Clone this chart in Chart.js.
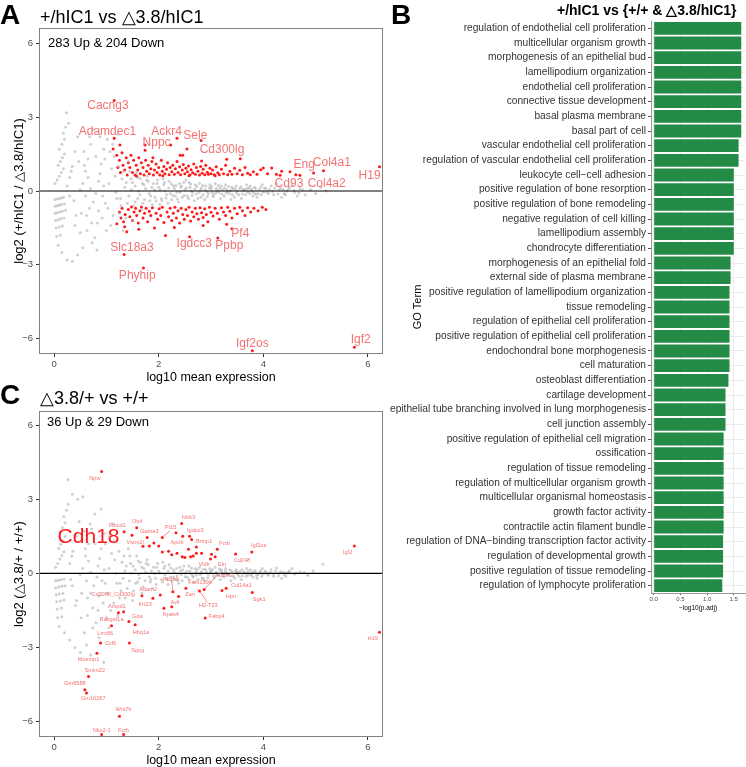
<!DOCTYPE html>
<html>
<head>
<meta charset="utf-8">
<script src="https://cdn.jsdelivr.net/npm/chart.js@4.4.0/dist/chart.umd.min.js"></script>
<style>
  body { margin: 0; background: #fff; width: 746px; height: 767px; position: relative; overflow: hidden;
         font-family: "Liberation Sans", Arial, sans-serif; }
  canvas, .t { position: absolute; }
  .t { line-height: 1; white-space: nowrap; color: #000; }
  .letter { font-weight: bold; font-size: 28px; }
</style>
</head>
<body>
<canvas id="chartA" width="395" height="385" style="left:0;top:0"></canvas>
<canvas id="chartC" width="395" height="385" style="left:0;top:383px"></canvas>
<canvas id="chartB" width="376" height="612" style="left:370px;top:0"></canvas>

<div class="t letter" style="left:0;top:1px">A</div>
<div class="t" style="left:40px;top:8px;font-size:18px">+/hIC1 vs △3.8/hIC1</div>
<div class="t" style="left:48px;top:36px;font-size:13px">283 Up &amp; 204 Down</div>

<div class="t letter" style="left:0;top:381px">C</div>
<div class="t" style="left:40px;top:389px;font-size:18px">△3.8/+ vs +/+</div>
<div class="t" style="left:47px;top:415px;font-size:13px">36 Up &amp; 29 Down</div>

<div class="t letter" style="left:391px;top:1px">B</div>
<div class="t" style="left:557px;top:3px;font-size:14px;font-weight:bold">+/hIC1 vs {+/+ &amp; △3.8/hIC1}</div>

<script>
Chart.defaults.font.family = '"Liberation Sans", Arial, sans-serif';

// ---------- Panel A: +/hIC1 vs d3.8/hIC1 (MA plot) ----------
// background genes, read roughly off the grey cloud
const aGrey = [
  [0.02,-0.35],[0.06,-0.32],[0.10,-0.30],[0.14,-0.28],[0.18,-0.25],
  [0.02,-0.62],[0.06,-0.60],[0.10,-0.57],[0.14,-0.55],[0.20,-0.52],
  [0.02,-0.90],[0.06,-0.88],[0.11,-0.85],[0.16,-0.82],[0.22,-0.78],
  [0.03,-1.20],[0.08,-1.17],[0.13,-1.13],[0.19,-1.10],
  [0.04,-1.50],[0.10,-1.46],[0.16,-1.42],
  [0.05,-1.85],[0.12,-1.80],[0.08,-2.20],[0.15,-2.50],[0.25,-2.80],[0.35,-2.85],
  [0.02,0.30],[0.06,0.45],[0.10,0.60],[0.14,0.75],[0.18,0.90],[0.08,1.05],[0.12,1.20],[0.16,1.35],
  [0.20,1.50],[0.10,1.70],[0.15,1.90],[0.20,2.10],[0.18,2.35],[0.22,2.60],[0.28,2.75],[0.24,3.18],
  [0.25,0.20],[0.30,0.55],[0.35,1.00],[0.40,1.60],[0.45,2.20],[0.38,-0.40],[0.42,-1.00],[0.50,-1.70],
  [0.55,-2.30],[0.45,-2.60],
  [0.55,0.30],[0.60,0.80],[0.65,1.30],[0.70,1.90],[0.75,2.50],[0.60,-0.20],[0.68,-0.70],[0.72,-1.30],
  [0.78,-1.90],[0.82,-2.40],[0.85,0.40],[0.90,1.10],[0.95,1.70],[0.88,2.20],[0.98,-0.50],[0.92,-1.10],
  [1.00,-1.60],[0.50,0.05],[0.70,0.10],[0.80,-0.10],[0.65,0.55],[0.75,-0.45],[0.58,1.05],[0.62,-1.00],
  [0.95,0.20],[0.85,-0.80],
  [1.05,0.30],[1.10,0.90],[1.15,1.40],[1.20,-0.30],[1.25,-0.90],[1.30,0.50],[1.35,0.15],[1.40,-0.50],
  [1.45,0.80],[1.50,-1.20],[1.08,-1.40],[1.12,1.90],[1.22,2.30],[1.32,-1.60],[1.42,1.20],[1.48,0.05],
  [1.18,-0.05],[1.28,-0.60],[1.38,0.35],[1.02,2.10],
  [1.55,0.20],[1.60,-0.30],[1.65,0.50],[1.70,-0.50],[1.75,0.10],[1.80,0.40],[1.85,-0.20],[1.90,0.30],
  [1.95,-0.40],[2.00,0.15],[1.58,0.75],[1.68,-0.75],[1.78,0.60],[1.88,-0.55],[1.62,0.00],[1.72,0.25],
  [1.82,-0.10],[1.92,0.05],[1.52,-0.60],[1.98,0.45],
  [2.05,-0.30],[2.10,0.25],[2.15,-0.15],[2.20,0.40],[2.25,-0.35],[2.30,0.10],[2.35,-0.05],[2.40,0.30],
  [2.45,-0.25],[2.50,0.05],[2.08,0.50],[2.18,-0.50],[2.28,0.20],[2.38,-0.45],[2.48,0.35],[2.12,0.00],
  [2.22,-0.10],[2.32,-0.20],[2.42,0.15],[2.02,-0.55],
  [2.55,-0.20],[2.60,0.15],[2.65,-0.05],[2.70,0.25],[2.75,-0.30],[2.80,0.05],[2.85,-0.15],[2.90,0.20],
  [2.95,-0.10],[3.00,0.10],[2.58,0.35],[2.68,-0.40],[2.78,0.30],[2.88,-0.35],[2.98,0.25],[2.62,0.00],
  [2.72,-0.12],[2.82,0.12],[2.92,-0.02],[2.52,0.45],
  [3.05,-0.15],[3.10,0.10],[3.15,-0.05],[3.20,0.20],[3.25,-0.20],[3.30,0.05],[3.35,-0.10],[3.40,0.15],
  [3.45,-0.25],[3.50,0.00],[3.08,0.30],[3.18,-0.30],[3.28,0.25],[3.38,-0.35],[3.48,0.20],[3.12,0.00],
  [3.22,0.05],[3.32,-0.02],[3.42,0.08],[3.02,-0.05],
  [3.55,0.10],[3.60,-0.12],[3.65,0.05],[3.70,-0.05],[3.75,0.20],[3.80,-0.20],[3.85,0.10],[3.90,-0.10],
  [3.95,0.15],[4.00,-0.05],[3.58,-0.30],[3.68,0.25],[3.78,0.00],[3.88,-0.25],[3.98,0.25],[3.62,0.02],
  [3.72,0.12],[3.82,-0.08],
  [4.05,0.10],[4.10,-0.10],[4.15,0.20],[4.20,-0.15],[4.30,0.05],[4.40,-0.10],[4.50,0.15],[4.60,-0.05],
  [4.70,0.10],[4.80,-0.15],[4.90,0.05],[5.00,-0.10],[5.20,0.00],[5.10,0.15],[4.25,0.30],[4.35,-0.25],
  [4.45,0.00],[4.55,0.25],[4.65,-0.20]
];
// denser core of the grey cloud
const aGreyCore = [
  [0.30,-0.20],[0.33,0.80],[0.40,-1.40],[0.47,1.20],[0.52,-0.90],[0.57,1.60],[0.63,-1.60],[0.68,2.20],
  [0.73,-2.10],[0.80,1.40],[0.83,-1.30],[0.88,0.70],[0.93,-0.20],[0.97,1.30],[1.03,-0.70],[1.07,1.60],
  [1.13,-1.00],[1.17,0.60],[1.23,1.00],[1.27,-0.30],[1.33,0.80],[1.37,-1.10],[1.43,-0.20],[1.47,0.50],
  [1.50,0.35],[1.55,-0.45],[1.60,0.55],[1.64,-0.15],[1.69,0.30],[1.73,-0.35],[1.77,0.45],[1.83,-0.40],
  [1.87,0.15],[1.93,-0.25],[1.97,0.30],[2.03,0.05],[2.06,-0.40],[2.11,0.35],[2.14,-0.28],[2.19,0.12],
  [2.24,0.28],[2.27,-0.18],[2.33,0.22],[2.36,-0.32],[2.41,-0.05],[2.44,0.20],[2.49,-0.18],[2.53,0.12],
  [2.57,-0.30],[2.61,0.28],[2.64,-0.18],[2.69,0.08],[2.73,0.18],[2.77,-0.05],[2.81,-0.25],[2.84,0.22],
  [2.89,0.05],[2.93,-0.22],[2.97,0.12],[3.01,0.18],[3.04,-0.22],[3.09,-0.08],[3.14,0.22],[3.17,0.10],
  [3.21,-0.12],[3.26,0.12],[3.29,-0.08],[3.34,0.18],[3.37,0.02],[3.41,-0.15],[3.46,0.10],[3.49,-0.08],
  [3.53,-0.15],[3.57,0.18],[3.61,0.08],[3.66,-0.15],[3.69,0.10],[3.74,-0.10],[3.77,0.08],[3.83,0.15],
  [3.86,-0.12],[3.92,0.05],[3.96,-0.15],[4.02,0.12],[4.07,-0.05],[4.12,0.05],[4.18,-0.02],[4.22,0.12],
  [4.28,-0.12],[4.33,0.10],[4.38,0.05],[4.42,-0.15],[4.48,0.08],[4.58,0.02],[4.68,-0.08],[4.75,0.05]
];
// significant up (283) - a readable subset
const aUp = [
  [1.20,1.45],[1.22,0.95],[1.25,1.25],[1.27,0.75],[1.30,1.55],[1.32,1.05],[1.35,0.85],[1.38,1.35],
  [1.40,0.65],[1.42,1.15],[1.45,0.95],[1.47,1.45],[1.50,0.75],[1.52,1.25],[1.55,0.65],[1.57,1.05],
  [1.60,0.85],[1.62,1.35],[1.65,0.70],[1.67,1.15],[1.70,0.95],[1.72,0.65],[1.75,1.25],[1.77,0.80],
  [1.80,1.05],[1.82,0.70],[1.85,0.90],[1.87,1.20],[1.90,0.65],[1.92,0.85],[1.95,1.10],[1.97,0.75],
  [2.00,0.95],[2.02,0.65],[2.05,1.25],[2.07,0.80],[2.10,1.00],[2.12,0.70],[2.15,0.88],[2.17,1.15],
  [2.20,0.66],[2.22,0.95],[2.25,0.78],[2.27,1.05],[2.30,0.68],[2.32,0.90],[2.35,1.20],[2.37,0.75],
  [2.40,0.98],[2.42,0.66],[2.45,0.85],[2.47,1.08],[2.50,0.70],[2.52,0.92],[2.55,0.78],[2.57,1.02],
  [2.60,0.66],[2.62,0.86],[2.65,0.74],[2.67,1.10],[2.70,0.68],[2.72,0.95],[2.75,0.80],[2.78,0.65],
  [2.80,1.00],[2.83,0.72],[2.85,0.88],[2.88,0.66],[2.90,1.05],[2.93,0.76],[2.95,0.68],[2.98,0.92],
  [3.00,0.70],[3.03,0.85],[3.06,0.66],[3.10,0.98],[3.13,0.74],[3.16,0.66],[3.20,0.88],[3.24,0.70],
  [3.28,1.05],[3.32,0.66],[3.36,0.80],[3.40,0.68],[3.45,0.92],[3.50,0.70],[3.55,0.84],[3.60,0.66],
  [3.65,0.95],[3.70,0.72],[3.75,0.66],[3.81,0.78],[3.88,0.68],[3.95,0.86],[4.00,0.93],[4.08,0.70],
  [4.16,0.93],[4.25,0.68],[4.35,0.80],[4.51,0.78],[4.62,0.66],[1.13,1.71],[1.26,1.87],[1.74,1.65],
  [1.89,1.35],[2.23,1.87],[2.41,1.45],[2.46,1.45],[2.54,1.71],[2.82,1.22],[3.56,1.31],[1.58,0.60],
  [2.08,0.62],[2.58,0.62],[3.08,0.62]
];
// significant down (204) - a readable subset
const aDown = [
  [1.20,-1.33],[1.25,-0.85],[1.28,-1.10],[1.30,-0.70],[1.33,-1.25],[1.36,-0.95],[1.39,-1.66],[1.42,-0.75],
  [1.45,-1.05],[1.48,-0.65],[1.50,-1.20],[1.53,-0.85],[1.56,-0.70],[1.58,-1.00],[1.61,-1.30],[1.64,-0.80],
  [1.67,-0.65],[1.70,-1.10],[1.73,-0.90],[1.76,-0.70],[1.79,-1.25],[1.82,-0.82],[1.85,-1.00],[1.88,-0.68],
  [1.92,-1.50],[1.95,-0.90],[1.98,-1.15],[2.01,-0.72],[2.04,-1.00],[2.07,-0.66],[2.10,-1.28],[2.13,-1.81],
  [2.16,-0.85],[2.19,-1.05],[2.22,-0.70],[2.25,-1.20],[2.28,-0.90],[2.31,-0.66],[2.34,-1.10],[2.37,-0.80],
  [2.40,-1.30],[2.43,-0.70],[2.46,-0.95],[2.49,-1.15],[2.52,-0.75],[2.55,-1.00],[2.58,-0.66],[2.61,-1.22],
  [2.64,-0.85],[2.67,-1.05],[2.70,-0.70],[2.73,-0.92],[2.76,-1.15],[2.79,-0.68],[2.82,-0.88],[2.85,-1.08],
  [2.88,-0.72],[2.91,-0.95],[2.94,-1.25],[2.97,-0.66],[3.00,-0.86],[3.04,-1.02],[3.08,-0.70],[3.12,-0.90],
  [3.16,-1.15],[3.20,-0.68],[3.24,-0.85],[3.28,-1.00],[3.32,-0.66],[3.36,-0.82],[3.40,-1.10],[3.45,-0.70],
  [3.50,-0.92],[3.55,-0.66],[3.60,-0.80],[3.65,-1.00],[3.70,-0.68],[3.76,-0.85],[3.82,-0.70],[3.90,-0.80],
  [3.98,-0.66],[4.05,-0.75],[1.35,-1.45],[2.85,-1.40],[3.30,-1.35],[2.30,-1.48],[1.62,-1.55]
];
// labelled genes: point
const aLabelPts = [
  [1.15,3.68],[1.15,2.14],[2.35,2.14],[1.74,1.87],[2.81,2.05],[3.30,1.29],[4.70,0.64],[5.15,0.82],
  [6.22,0.98],[4.32,0.64],[4.96,0.73],[3.40,-1.53],[2.59,-1.86],[3.13,-1.91],[1.34,-2.58],[1.71,-3.13],
  [3.79,-6.49],[5.74,-6.35]
];
// labelled genes: text position
const aLabels = [
  ['Cacng3',1.03,3.45],['Adamdec1',1.02,2.42],['Ackr4',2.15,2.42],['Nppc',1.96,1.98],['Sele',2.70,2.25],
  ['Cd300lg',3.21,1.69],['Eng',4.78,1.08],['Col4a1',5.31,1.14],['H19',6.03,0.64],['Cd93',4.49,0.28],
  ['Col4a2',5.21,0.28],['Pf4',3.56,-1.74],['Igdcc3',2.68,-2.14],['Ppbp',3.35,-2.21],['Slc18a3',1.49,-2.30],
  ['Phyhip',1.59,-3.44],['Igf2os',3.79,-6.21],['Igf2',5.86,-6.05]
];

// ---------- Panel C: d3.8/+ vs +/+ (MA plot) ----------
const cGrey = [
  [0.03,-0.30],[0.08,-0.28],[0.13,-0.26],[0.19,-0.23],[0.03,-0.58],[0.09,-0.55],[0.15,-0.52],[0.21,-0.50],
  [0.04,-0.86],[0.10,-0.83],[0.17,-0.80],[0.05,-1.15],[0.12,-1.12],[0.19,-1.08],[0.06,-1.45],[0.14,-1.40],
  [0.07,-1.80],[0.15,-1.75],[0.10,-2.15],[0.20,-2.40],[0.30,-2.70],[0.40,-3.00],[0.50,-3.20],
  [0.03,0.25],[0.07,0.40],[0.11,0.58],[0.15,0.72],[0.19,0.88],[0.09,1.02],[0.13,1.18],[0.17,1.32],
  [0.21,1.48],[0.11,1.65],[0.16,1.85],[0.21,2.05],[0.19,2.30],[0.24,2.55],[0.27,2.80],[0.27,3.79],
  [0.35,3.20],[0.45,3.00],[0.55,3.10],
  [0.30,0.40],[0.36,0.90],[0.42,1.50],[0.48,2.10],[0.35,-0.50],[0.43,-1.10],[0.52,-1.80],[0.58,-2.40],
  [0.62,-2.90],[0.55,0.20],[0.60,0.70],[0.66,1.20],[0.72,1.80],[0.78,2.40],[0.62,-0.30],[0.70,-0.80],
  [0.74,-1.40],[0.80,-2.00],[0.86,-2.60],[0.84,0.30],[0.90,1.00],[0.96,1.60],[0.90,2.60],[0.98,-0.40],
  [0.94,-1.20],[1.00,-1.80],[0.50,-0.05],[0.70,0.05],[0.82,-0.15],[0.66,0.50],[0.76,-0.50],[0.60,1.00],
  [0.64,-1.00],[0.96,0.15],[0.86,-0.90],[0.95,-3.60],[0.70,-3.30],
  [1.05,0.20],[1.10,0.80],[1.15,1.30],[1.20,-0.40],[1.25,-1.00],[1.30,0.45],[1.35,0.10],[1.40,-0.60],
  [1.45,0.70],[1.50,-1.10],[1.08,-1.50],[1.12,2.00],[1.22,-1.70],[1.32,-0.20],[1.42,1.00],[1.48,0.00],
  [1.18,0.00],[1.28,-0.70],[1.38,0.30],[1.05,-2.20],
  [1.55,0.15],[1.60,-0.35],[1.65,0.45],[1.70,-0.55],[1.75,0.05],[1.80,0.35],[1.85,-0.25],[1.90,0.25],
  [1.95,-0.45],[2.00,0.10],[1.58,0.70],[1.68,-0.80],[1.78,0.55],[1.88,-0.60],[1.62,-0.05],[1.72,0.20],
  [1.82,-0.15],[1.92,0.00],[1.52,-0.70],[1.98,0.40],
  [2.05,-0.25],[2.10,0.20],[2.15,-0.20],[2.20,0.35],[2.25,-0.30],[2.30,0.05],[2.35,-0.10],[2.40,0.25],
  [2.45,-0.30],[2.50,0.00],[2.08,0.45],[2.18,-0.45],[2.28,0.15],[2.38,-0.40],[2.48,0.30],[2.12,-0.05],
  [2.22,-0.15],[2.32,-0.25],[2.42,0.10],
  [2.55,-0.15],[2.60,0.10],[2.65,-0.10],[2.70,0.20],[2.75,-0.25],[2.80,0.00],[2.85,-0.20],[2.90,0.15],
  [2.95,-0.05],[3.00,0.05],[2.58,0.30],[2.68,-0.35],[2.78,0.25],[2.88,-0.30],[2.98,0.20],[2.62,-0.02],
  [2.72,-0.08],[2.82,0.08],
  [3.05,-0.10],[3.10,0.05],[3.15,-0.08],[3.20,0.15],[3.25,-0.15],[3.30,0.02],[3.35,-0.05],[3.40,0.10],
  [3.45,-0.20],[3.50,0.05],[3.08,0.25],[3.18,-0.25],[3.28,0.20],[3.38,-0.30],[3.48,0.15],[3.12,-0.02],
  [3.22,0.00],
  [3.55,0.08],[3.60,-0.10],[3.65,0.02],[3.70,-0.08],[3.75,0.15],[3.80,-0.15],[3.85,0.05],[3.90,-0.05],
  [3.95,0.10],[4.00,-0.02],[3.58,-0.25],[3.68,0.20],[3.78,-0.02],[3.88,-0.20],[3.98,0.20],
  [4.05,0.05],[4.10,-0.08],[4.15,0.15],[4.20,-0.12],[4.30,0.02],[4.40,-0.06],[4.50,0.10],[4.60,-0.02],
  [4.70,0.06],[4.85,-0.08],[5.14,0.37],[4.25,0.22],[4.35,-0.20],[4.45,0.02],[4.55,0.20]
];
const cGreyCore = [
  [0.32,-0.25],[0.34,0.70],[0.41,-1.30],[0.46,1.30],[0.53,-0.80],[0.58,1.70],[0.64,-1.70],[0.69,2.00],
  [0.74,-2.20],[0.79,1.20],[0.84,-1.50],[0.87,0.60],[0.92,-0.30],[0.98,1.20],[1.02,-0.80],[1.06,1.50],
  [1.14,-1.20],[1.16,0.55],[1.24,0.90],[1.26,-0.40],[1.34,0.70],[1.36,-1.00],[1.44,-0.30],[1.46,0.40],
  [1.51,0.30],[1.56,-0.40],[1.61,0.50],[1.63,-0.20],[1.68,0.25],[1.74,-0.30],[1.76,0.40],[1.84,-0.35],
  [1.86,0.10],[1.94,-0.20],[1.96,0.25],[2.02,0.02],[2.07,-0.35],[2.12,0.30],[2.16,-0.25],[2.18,0.10],
  [2.23,0.22],[2.28,-0.15],[2.34,0.20],[2.37,-0.28],[2.43,-0.05],[2.46,0.15],[2.51,-0.15],[2.54,0.10],
  [2.58,-0.25],[2.63,0.22],[2.66,-0.15],[2.71,0.06],[2.74,0.15],[2.79,-0.05],[2.83,-0.20],[2.86,0.18],
  [2.91,0.04],[2.94,-0.18],[2.99,0.10],[3.03,0.15],[3.06,-0.18],[3.11,-0.06],[3.16,0.18],[3.19,0.08],
  [3.23,-0.10],[3.27,0.10],[3.31,-0.06],[3.36,0.15],[3.39,0.02],[3.43,-0.12],[3.47,0.08],[3.51,-0.06],
  [3.54,-0.12],[3.59,0.15],[3.63,0.06],[3.67,-0.12],[3.71,0.08],[3.76,-0.08],[3.79,0.06],[3.84,0.12],
  [3.87,-0.10],[3.93,0.04],[3.97,-0.12],[4.03,0.10],[4.08,-0.04],[4.13,0.04],[4.19,-0.02],[4.23,0.10],
  [4.29,-0.10],[4.34,0.08],[4.39,0.04],[4.43,-0.12],[4.49,0.06],[4.62,0.02],[4.78,0.04],[4.95,0.10]
];
const cUp = [
  [0.91,4.12],[1.34,1.68],[1.49,1.54],[1.58,1.85],[1.78,1.45],[1.82,1.11],[1.91,1.23],[2.00,1.11],
  [2.07,1.45],[2.07,0.87],[2.19,0.90],[2.33,1.64],[2.35,0.81],[2.44,2.02],[2.46,1.50],[2.45,0.67],
  [2.50,0.64],[2.57,0.98],[2.59,1.50],[2.63,1.37],[2.61,0.67],[2.66,0.70],[2.72,1.07],[2.72,0.81],
  [2.82,0.81],[2.99,0.58],[3.01,0.77],[3.08,0.67],[3.12,0.98],[3.47,0.78],[3.78,0.87],[5.74,1.11],
  [1.70,1.10],[2.25,0.75]
];
const cDown = [
  [2.87,-0.65],[2.27,-0.74],[2.78,-0.71],[2.52,-0.60],[3.29,-0.60],[3.21,-0.69],[3.79,-0.77],[1.89,-1.01],
  [2.03,-0.87],[1.68,-0.90],[2.38,-0.94],[2.25,-1.35],[2.10,-1.41],[2.89,-1.81],[1.23,-1.59],[1.33,-1.55],
  [1.43,-1.95],[1.10,-2.12],[1.55,-2.08],[0.89,-2.82],[1.44,-2.82],[0.82,-3.23],[0.66,-4.17],[0.59,-4.71],
  [0.62,-4.84],[1.25,-5.78],[0.91,-6.52],[1.33,-6.52],[6.22,-2.38]
];
const cLabels = [
  ['Npw',0.78,3.86],['Fibcd1',1.21,1.92],['Otof',1.59,2.11],['Gabra3',1.82,1.68],['Vstm2l',1.55,1.25],
  ['Pi15',2.23,1.85],['Ntrk3',2.57,2.28],['Igdcc3',2.70,1.75],['Apob',2.35,1.25],['Brinp1',2.87,1.31],
  ['Frzb',3.26,1.21],['Igf2os',3.91,1.11],['Cd248',3.59,0.54],['Vldlr',2.87,0.35],['Eln',3.21,0.38],
  ['Igf2',5.61,0.85],['Kcnn2',3.27,-0.07],['Pcdh9',2.23,-0.24],['Fam210b',2.79,-0.38],['Zan',2.60,-0.85],
  ['H2-T23',2.95,-1.28],['Col14a1',3.58,-0.50],['Hpn',3.38,-0.94],['Sgk1',3.92,-1.04],
  ['Cd300lf_Cd300lg',1.13,-0.87],['Adam2',1.80,-0.67],['Krt23',1.74,-1.25],['Avil',2.31,-1.18],
  ['Npas4',2.23,-1.65],['Fabp4',3.11,-1.75],['Ampd1',1.20,-1.32],['Gda',1.59,-1.75],['Rasgef1a',1.10,-1.88],
  ['Hbq1a',1.66,-2.38],['Lrrc66',0.98,-2.42],['Ccl6',1.08,-2.82],['Sgcg',1.60,-3.12],['Mcemp1',0.66,-3.50],
  ['Smim22',0.78,-3.93],['Gm6588',0.40,-4.44],['Gm16267',0.75,-5.08],['Wnt7b',1.33,-5.51],
  ['Nkx2-1',0.91,-6.36],['Fcrb',1.33,-6.36],['H19',6.09,-2.65]
];
// label connector segments (from, to)
const cSegments = [
  [2.22,1.72,2.07,1.47],[2.25,-0.33,2.27,-0.72],[2.93,-1.17,2.79,-0.73],[3.11,-0.09,2.88,-0.63]
];
const cBigLabel = ['Cdh18', 0.66, 1.45];

// ---------- Panel B: GO terms ----------
const goTerms = [
  'regulation of endothelial cell proliferation','multicellular organism growth',
  'morphogenesis of an epithelial bud','lamellipodium organization','endothelial cell proliferation',
  'connective tissue development','basal plasma membrane','basal part of cell',
  'vascular endothelial cell proliferation','regulation of vascular endothelial cell proliferation',
  'leukocyte cell\u2212cell adhesion','positive regulation of bone resorption',
  'positive regulation of bone remodeling','negative regulation of cell killing','lamellipodium assembly',
  'chondrocyte differentiation','morphogenesis of an epithelial fold','external side of plasma membrane',
  'positive regulation of lamellipodium organization','tissue remodeling',
  'regulation of epithelial cell proliferation','positive regulation of epithelial cell proliferation',
  'endochondral bone morphogenesis','cell maturation','osteoblast differentiation','cartilage development',
  'epithelial tube branching involved in lung morphogenesis','cell junction assembly',
  'positive regulation of epithelial cell migration','ossification','regulation of tissue remodeling',
  'regulation of multicellular organism growth','multicellular organismal homeostasis',
  'growth factor activity','contractile actin filament bundle',
  'regulation of DNA\u2212binding transcription factor activity','regulation of developmental growth',
  'positive regulation of tissue remodeling','regulation of lymphocyte proliferation'
];
const goValues = [
  1.64,1.64,1.64,1.64,1.64,1.64,1.64,1.64,1.59,1.59,
  1.50,1.50,1.50,1.50,1.50,1.50,1.44,1.44,1.42,1.42,
  1.42,1.42,1.42,1.42,1.40,1.345,1.345,1.345,1.31,1.31,
  1.31,1.31,1.31,1.31,1.31,1.30,1.30,1.30,1.285
];

const LABEL_RED = '#F47272';
const minus = v => String(v).replace('-', '\u2212');

function maDecor(labels, labelSize, segments, big) {
  return {
    id: 'maDecor',
    afterDatasetsDraw(chart) {
      const { ctx, chartArea: a, scales: { x, y } } = chart;
      ctx.save();
      ctx.beginPath();
      ctx.rect(a.left, a.top, a.width, a.height);
      ctx.clip();
      const y0 = y.getPixelForValue(0);
      ctx.strokeStyle = '#000';
      ctx.lineWidth = 1.1;
      ctx.beginPath();
      ctx.moveTo(a.left, y0);
      ctx.lineTo(a.right, y0);
      ctx.stroke();

      ctx.strokeStyle = LABEL_RED;
      ctx.lineWidth = 0.8;
      segments.forEach(([x1, y1, x2, y2]) => {
        ctx.beginPath();
        ctx.moveTo(x.getPixelForValue(x1), y.getPixelForValue(y1));
        ctx.lineTo(x.getPixelForValue(x2), y.getPixelForValue(y2));
        ctx.stroke();
      });

      ctx.fillStyle = LABEL_RED;
      ctx.textAlign = 'center';
      ctx.textBaseline = 'middle';
      ctx.font = labelSize + 'px "Liberation Sans", Arial, sans-serif';
      labels.forEach(([t, lx, ly]) => ctx.fillText(t, x.getPixelForValue(lx), y.getPixelForValue(ly)));
      if (big) {
        ctx.fillStyle = '#FF1A1A';
        ctx.font = '21px "Liberation Sans", Arial, sans-serif';
        ctx.fillText(big[0], x.getPixelForValue(big[1]), y.getPixelForValue(big[2]));
      }
      ctx.restore();

      ctx.save();
      ctx.strokeStyle = '#808080';
      ctx.lineWidth = 1;
      ctx.strokeRect(a.left + 0.5, a.top + 0.5, a.width - 1, a.height - 1);
      ctx.restore();
    }
  };
}

function maChart(id, grey, red, yTitle, yMin, yMax, plugin) {
  const pts = arr => arr.map(([x, y]) => ({ x, y }));
  return new Chart(document.getElementById(id), {
    type: 'scatter',
    data: {
      datasets: [
        { data: pts(grey), pointRadius: 1.5, backgroundColor: 'rgba(170,170,170,0.55)', borderWidth: 0 },
        { data: pts(red), pointRadius: 1.5, backgroundColor: '#FF1A1A', borderWidth: 0 }
      ]
    },
    options: {
      responsive: false,
      animation: false,
      events: [],
      layout: { padding: { top: 28, right: 12, left: 0, bottom: 0 } },
      plugins: { legend: { display: false }, tooltip: { enabled: false } },
      scales: {
        x: {
          type: 'linear', min: -0.287, max: 6.287,
          ticks: { stepSize: 2, includeBounds: false, color: '#4D4D4D', font: { size: 9.5 }, padding: 2, callback: minus },
          grid: { drawOnChartArea: false, tickLength: 3, tickColor: '#333' },
          border: { display: false },
          title: { display: true, text: 'log10 mean expression', color: '#000', font: { size: 12.5 }, padding: { top: 0, bottom: 0 } },
          afterFit(s) { s.height = 31; }
        },
        y: {
          type: 'linear', min: yMin, max: yMax,
          ticks: { stepSize: 3, includeBounds: false, color: '#4D4D4D', font: { size: 9.5 }, padding: 3, callback: minus },
          grid: { drawOnChartArea: false, tickLength: 3, tickColor: '#333' },
          border: { display: false },
          title: { display: true, text: yTitle, color: '#000', font: { size: 13 }, padding: { top: 12, bottom: 0 } },
          afterFit(s) { s.width = 39; }
        }
      }
    },
    plugins: [plugin]
  });
}

maChart('chartA', aGrey.concat(aGreyCore), aUp.concat(aDown, aLabelPts), 'log2 (+/hIC1 / \u25B33.8/hIC1)', -6.62, 6.62,
  maDecor(aLabels, 12, [], null));
maChart('chartC', cGrey.concat(cGreyCore), cUp.concat(cDown), 'log2 (\u25B33.8/+ / +/+)', -6.62, 6.57,
  maDecor(cLabels, 5.6, cSegments, cBigLabel));

new Chart(document.getElementById('chartB'), {
  type: 'bar',
  data: {
    labels: goTerms,
    datasets: [{ data: goValues, backgroundColor: '#238B45', barPercentage: 0.88, categoryPercentage: 1 }]
  },
  options: {
    indexAxis: 'y',
    responsive: false,
    animation: false,
    events: [],
    layout: { padding: { top: 21, right: 1, left: 0, bottom: 0 } },
    plugins: { legend: { display: false }, tooltip: { enabled: false } },
    scales: {
      x: {
        min: -0.05, max: 1.71,
        ticks: { stepSize: 0.5, includeBounds: false, color: '#4D4D4D', font: { size: 6 }, padding: 1, callback: v => v.toFixed(1) },
        grid: { color: '#EBEBEB', tickColor: '#555', tickLength: 2 },
        border: { display: true, color: '#999' },
        title: { display: true, text: '\u2212log10(p.adj)', color: '#000', font: { size: 6.5 }, padding: { top: 4, bottom: 0 } },
        afterFit(s) { s.height = 19; }
      },
      y: {
        ticks: { autoSkip: false, color: '#333', font: { size: 10.2 }, padding: 2 },
        grid: { offset: false, color: '#EBEBEB', tickColor: '#555', tickLength: 3 },
        border: { display: true, color: '#999' },
        title: { display: true, text: 'GO Term', color: '#000', font: { size: 11 }, padding: { top: 41, bottom: 0 } },
        afterFit(s) { s.width = 281; }
      }
    }
  }
});
</script>
</body>
</html>
